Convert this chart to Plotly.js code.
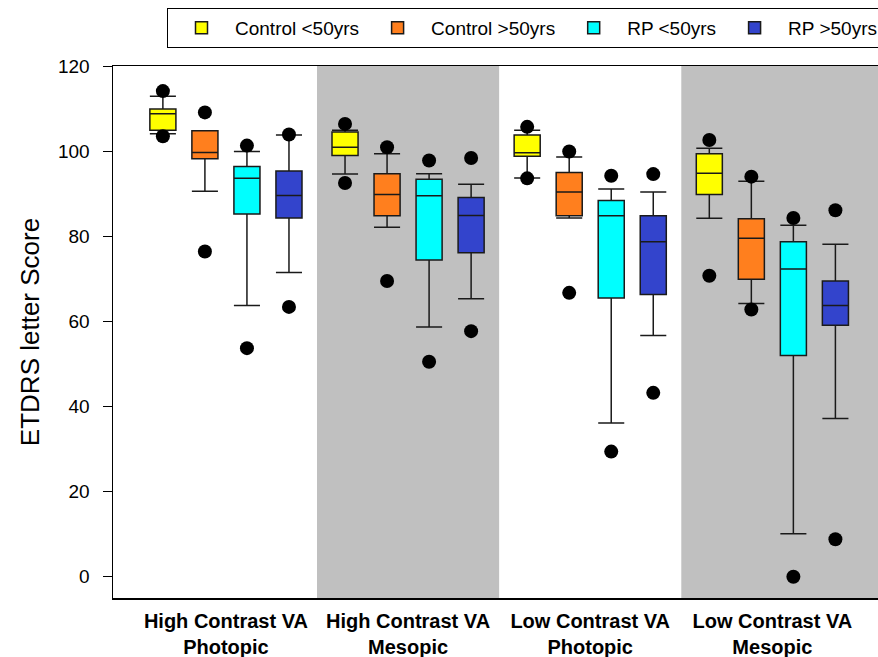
<!DOCTYPE html>
<html><head><meta charset="utf-8">
<script src="https://cdn.plot.ly/plotly-3.0.1.min.js"></script>
<style>html,body{margin:0;padding:0;background:#fff}#chart{width:878px;height:657px}</style>
</head><body><div id="chart"></div>
<script>
const categories = ["High Contrast VA<br>Photopic","High Contrast VA<br>Mesopic","Low Contrast VA<br>Photopic","Low Contrast VA<br>Mesopic"];
const seriesNames = ["Control <50yrs","Control >50yrs","RP <50yrs","RP >50yrs"];
const seriesColors = ["#FFFF00","#FF7F1E","#00FFFF","#3344CC"];

// Control <50yrs
const c50_q1     = [104.9, 99.0, 98.8, 89.8];
const c50_median = [108.8, 100.9, 99.6, 94.8];
const c50_q3     = [109.9, 104.5, 103.8, 99.4];
const c50_lower  = [104.1, 94.6, 93.7, 84.2];
const c50_upper  = [112.9, 104.9, 104.9, 100.7];
const c50_low    = [103.5, 92.5, 93.6, 70.7];
const c50_high   = [114.1, 106.4, 105.7, 102.6];
// Control >50yrs
const co_q1     = [98.2, 84.8, 84.8, 69.9];
const co_median = [99.7, 89.8, 90.4, 79.5];
const co_q3     = [104.8, 94.7, 95.0, 84.1];
const co_lower  = [90.6, 82.1, 84.3, 64.2];
const co_upper  = [104.8, 99.4, 98.6, 92.9];
const co_low    = [76.4, 69.5, 66.7, 62.8];
const co_high   = [109.1, 100.9, 99.9, 94.0];
// RP <50yrs
const rp50_q1     = [85.2, 74.4, 65.5, 52.0];
const rp50_median = [93.6, 89.5, 84.8, 72.3];
const rp50_q3     = [96.4, 93.4, 88.4, 78.7];
const rp50_lower  = [63.7, 58.7, 36.1, 10.1];
const rp50_upper  = [99.9, 94.7, 91.1, 82.6];
const rp50_low    = [53.7, 50.5, 29.4, 0.0];
const rp50_high   = [101.3, 97.8, 94.2, 84.3];
// RP >50yrs
const rpo_q1     = [84.3, 76.1, 66.3, 59.1];
const rpo_median = [89.6, 84.9, 78.7, 63.7];
const rpo_q3     = [95.3, 89.1, 84.8, 69.5];
const rpo_lower  = [71.5, 65.3, 56.7, 37.2];
const rpo_upper  = [103.8, 92.2, 90.4, 78.1];
const rpo_low    = [63.4, 57.7, 43.2, 8.8];
const rpo_high   = [103.9, 98.4, 94.6, 86.1];

const series = [
  {q1:c50_q1, med:c50_median, q3:c50_q3, lo:c50_lower, hi:c50_upper, pLow:c50_low, pHigh:c50_high},
  {q1:co_q1, med:co_median, q3:co_q3, lo:co_lower, hi:co_upper, pLow:co_low, pHigh:co_high},
  {q1:rp50_q1, med:rp50_median, q3:rp50_q3, lo:rp50_lower, hi:rp50_upper, pLow:rp50_low, pHigh:rp50_high},
  {q1:rpo_q1, med:rpo_median, q3:rpo_q3, lo:rpo_lower, hi:rpo_upper, pLow:rpo_low, pHigh:rpo_high}
];

const BOXGAP = 0.077, BOXGROUPGAP = 0.38;
const slot = (1 - BOXGAP) / series.length;
const XR = [-0.62, 3.58];
const font = "Liberation Sans, Arial, sans-serif";

const traces = [];
series.forEach((s, k) => {
  traces.push({
    type: 'box', name: seriesNames[k], x: categories,
    q1: s.q1, median: s.med, q3: s.q3, lowerfence: s.lo, upperfence: s.hi,
    fillcolor: seriesColors[k], line: {color: '#1a1a1a', width: 1.5},
    whiskerwidth: 1, boxpoints: false, hoverinfo: 'y'
  });
});
series.forEach((s, k) => {
  const xs = categories.map((c, i) => i + (k - (series.length - 1) / 2) * slot);
  traces.push({
    type: 'scatter', mode: 'markers', xaxis: 'x2', yaxis: 'y', showlegend: false,
    x: xs.concat(xs), y: s.pHigh.concat(s.pLow),
    marker: {color: '#000', size: 14}, hoverinfo: 'y'
  });
});

const layout = {
  width: 878, height: 657,
  margin: {l: 113, r: 0, t: 66, b: 59},
  paper_bgcolor: '#fff', plot_bgcolor: '#fff',
  boxmode: 'group', boxgap: BOXGAP, boxgroupgap: BOXGROUPGAP,
  font: {family: font, color: '#000'},
  showlegend: true,
  legend: {orientation: 'h', xref: 'container', yref: 'container', x: 167/878, y: 1 - 8/657,
    xanchor: 'left', yanchor: 'top', bordercolor: '#000', borderwidth: 1, bgcolor: '#fff',
    itemwidth: 57, tracegroupgap: 0,
    font: {family: font, size: 19, color: '#000'}},
  xaxis: {type: 'category', range: XR, showline: true, mirror: true, linecolor: '#000', linewidth: 1.5,
    ticks: '', showgrid: false, zeroline: false, ticklabelstandoff: 4,
    tickfont: {family: font, size: 20, weight: 'bold', color: '#000'}},
  xaxis2: {overlaying: 'x', range: XR, visible: false, showgrid: false, zeroline: false},
  yaxis: {range: [-5, 120], tickvals: [0, 20, 40, 60, 80, 100, 120], ticks: 'outside', ticklen: 9,
    tickcolor: '#000', showline: true, linecolor: '#000', linewidth: 1.5, showgrid: false, zeroline: false,
    ticklabelstandoff: 9,
    tickfont: {family: font, size: 19, color: '#000'},
    title: {text: 'ETDRS letter Score', font: {family: font, size: 26, color: '#000'}, standoff: 11}},
  shapes: [
    {type: 'rect', xref: 'x', yref: 'paper', x0: 0.5, x1: 1.5, y0: 0, y1: 1, fillcolor: '#C0C0C0', line: {width: 0}, layer: 'below'},
    {type: 'rect', xref: 'x', yref: 'paper', x0: 2.5, x1: 3.58, y0: 0, y1: 1, fillcolor: '#C0C0C0', line: {width: 0}, layer: 'below'}
  ]
};

Plotly.newPlot('chart', traces, layout, {displayModeBar: false, staticPlot: true});
</script>
</body></html>
